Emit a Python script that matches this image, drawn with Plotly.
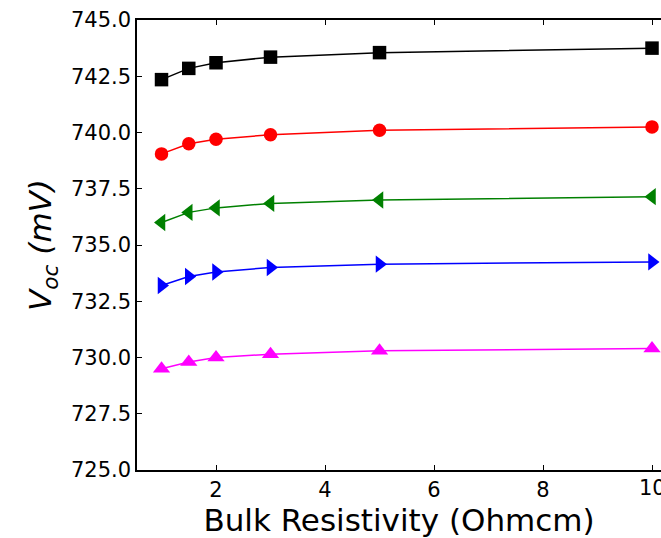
import plotly.graph_objects as go

resistivity = [1, 1.5, 2, 3, 5, 10]
voc_black = [742.35, 742.85, 743.1, 743.35, 743.55, 743.75]
voc_red = [739.05, 739.5, 739.7, 739.9, 740.1, 740.25]
voc_green = [736.0, 736.45, 736.65, 736.85, 737.0, 737.15]
voc_blue = [733.2, 733.6, 733.8, 734.0, 734.15, 734.25]
voc_magenta = [729.5, 729.8, 730.0, 730.15, 730.3, 730.4]
x_ticks = [2, 4, 6, 8, 10]

series = [
    (voc_black, "black", "square", 13.5),
    (voc_red, "red", "circle", 13.5),
    (voc_green, "green", "triangle-left", 15),
    (voc_blue, "blue", "triangle-right", 15),
    (voc_magenta, "magenta", "triangle-up", 15),
]

fig = go.Figure()
for ys, col, sym, sz in series:
    fig.add_trace(go.Scatter(
        x=resistivity, y=ys, mode="lines+markers",
        line=dict(color=col, width=1.5),
        marker=dict(color=col, symbol=sym, size=sz, line=dict(width=0)),
        showlegend=False, cliponaxis=False,
    ))

font = "DejaVu Sans"
tick_size = 21
title_size = 31

fig.update_layout(
    width=661, height=538,
    margin=dict(l=137, r=0, t=20, b=68),
    paper_bgcolor="white", plot_bgcolor="white",
    font=dict(family=font, color="black"),
    xaxis=dict(
        range=[0.55, 10.165], tickvals=x_ticks,
        ticktext=[str(t) if t != 10 else "" for t in x_ticks],
        ticks="inside", ticklen=5, tickwidth=1, tickcolor="black",
        showline=True, linecolor="black", linewidth=1.5, mirror="ticks",
        showgrid=False, zeroline=False,
        tickfont=dict(size=tick_size, family=font, color="black"),
        title=dict(text="Bulk Resistivity (Ohmcm)", font=dict(size=title_size, family=font, color="black"), standoff=3),
    ),
    yaxis=dict(
        range=[725, 745], dtick=2.5, tick0=725, tickformat=".1f",
        ticks="inside", ticklen=5, tickwidth=1, tickcolor="black",
        showline=True, linecolor="black", linewidth=1.5, mirror=False,
        showgrid=False, zeroline=False,
        tickfont=dict(size=tick_size, family=font, color="black"),
        title=dict(text="<i>V</i><sub><i>oc</i></sub> <i>(mV)</i>", font=dict(size=title_size, family=font, color="black"), standoff=10),
    ),
)

# the "10" tick label is partly cut by the right edge in the reference
fig.add_annotation(
    x=x_ticks[-1], xref="x", y=0, yref="paper", yanchor="top",
    text=str(x_ticks[-1]), showarrow=False, yshift=-4,
    font=dict(size=tick_size, family=font, color="black"),
)

fig.write_html("out.html")
